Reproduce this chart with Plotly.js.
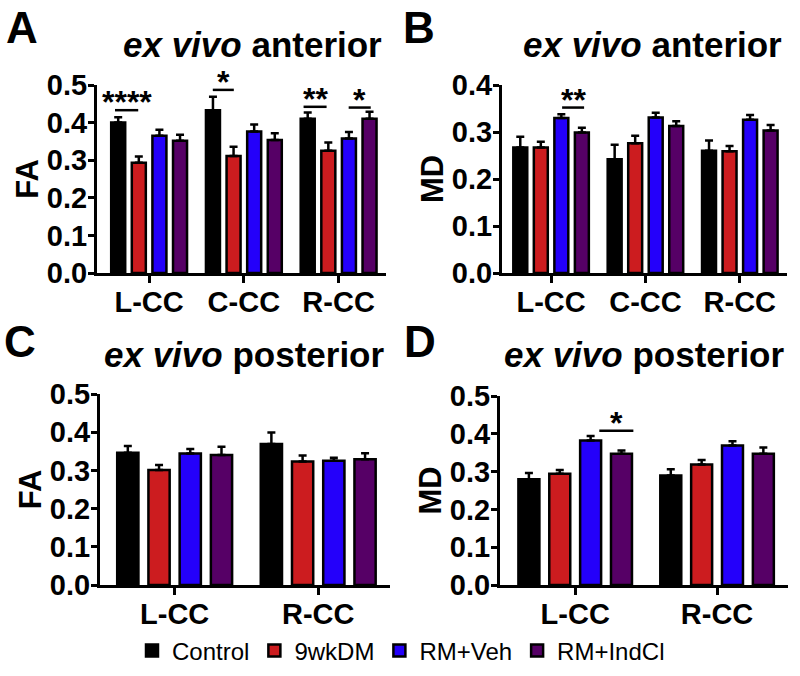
<!DOCTYPE html>
<html>
<head>
<meta charset="utf-8">
<script src="https://cdn.plot.ly/plotly-3.0.1.min.js"></script>
<style>html,body{margin:0;padding:0;background:#fff;}#chart{width:800px;height:676px;}</style>
</head>
<body>
<div id="chart"></div>
<script>
// ---- data ----
const groups = ["Control", "9wkDM", "RM+Veh", "RM+IndCl"];
const colors = ["#000000", "#CC1C1F", "#2400FA", "#560066"];

const catsAnt = ["L-CC", "C-CC", "R-CC"];
const catsPost = ["L-CC", "R-CC"];

// A: FA, ex vivo anterior
const faAntControl = [0.400, 0.433, 0.410];
const faAnt9wkDM   = [0.293, 0.311, 0.325];
const faAntRMVeh   = [0.365, 0.376, 0.358];
const faAntRMIndCl = [0.352, 0.354, 0.410];
const faAntErrControl = [0.014, 0.036, 0.017];
const faAntErr9wkDM   = [0.017, 0.025, 0.022];
const faAntErrRMVeh   = [0.016, 0.019, 0.017];
const faAntErrRMIndCl = [0.016, 0.018, 0.019];

// B: MD, ex vivo anterior
const mdAntControl = [0.267, 0.242, 0.260];
const mdAnt9wkDM   = [0.267, 0.276, 0.259];
const mdAntRMVeh   = [0.330, 0.331, 0.326];
const mdAntRMIndCl = [0.299, 0.313, 0.303];
const mdAntErrControl = [0.023, 0.031, 0.022];
const mdAntErr9wkDM   = [0.012, 0.016, 0.011];
const mdAntErrRMVeh   = [0.008, 0.010, 0.010];
const mdAntErrRMIndCl = [0.010, 0.010, 0.012];

// C: FA, ex vivo posterior
const faPostControl = [0.346, 0.369];
const faPost9wkDM   = [0.301, 0.323];
const faPostRMVeh   = [0.344, 0.325];
const faPostRMIndCl = [0.340, 0.329];
const faPostErrControl = [0.018, 0.030];
const faPostErr9wkDM   = [0.013, 0.016];
const faPostErrRMVeh   = [0.012, 0.008];
const faPostErrRMIndCl = [0.022, 0.016];

// D: MD, ex vivo posterior
const mdPostControl = [0.280, 0.290];
const mdPost9wkDM   = [0.294, 0.319];
const mdPostRMVeh   = [0.382, 0.369];
const mdPostRMIndCl = [0.347, 0.347];
const mdPostErrControl = [0.016, 0.016];
const mdPostErr9wkDM   = [0.010, 0.012];
const mdPostErrRMVeh   = [0.012, 0.011];
const mdPostErrRMIndCl = [0.009, 0.017];

// significance marks: [panel axis suffix, x0, x1, y, label]
const sigMarks = [
  ["", -0.36, -0.115, 0.433, "****"],
  ["", 0.672, 0.894, 0.487, "*"],
  ["", 1.63, 1.873, 0.442, "**"],
  ["", 2.106, 2.339, 0.440, "*"],
  ["2", 0.117, 0.35, 0.352, "**"],
  ["4", 0.17, 0.41, 0.408, "*"]
];

// ---- build ----
const panels = [
  {ax: "", cats: catsAnt, vals: [faAntControl, faAnt9wkDM, faAntRMVeh, faAntRMIndCl],
   errs: [faAntErrControl, faAntErr9wkDM, faAntErrRMVeh, faAntErrRMIndCl], legend: true},
  {ax: "2", cats: catsAnt, vals: [mdAntControl, mdAnt9wkDM, mdAntRMVeh, mdAntRMIndCl],
   errs: [mdAntErrControl, mdAntErr9wkDM, mdAntErrRMVeh, mdAntErrRMIndCl], legend: false},
  {ax: "3", cats: catsPost, vals: [faPostControl, faPost9wkDM, faPostRMVeh, faPostRMIndCl],
   errs: [faPostErrControl, faPostErr9wkDM, faPostErrRMVeh, faPostErrRMIndCl], legend: false},
  {ax: "4", cats: catsPost, vals: [mdPostControl, mdPost9wkDM, mdPostRMVeh, mdPostRMIndCl],
   errs: [mdPostErrControl, mdPostErr9wkDM, mdPostErrRMVeh, mdPostErrRMIndCl], legend: false}
];

const traces = [];
panels.forEach(p => {
  groups.forEach((g, i) => {
    traces.push({
      type: "bar", name: g, legendgroup: g, showlegend: p.legend,
      x: p.cats, y: p.vals[i],
      xaxis: "x" + p.ax, yaxis: "y" + p.ax,
      marker: {color: colors[i], line: {color: "#000", width: 2.5}},
      error_y: {type: "data", array: p.errs[i], symmetric: false,
                arrayminus: p.errs[i].map(() => 0),
                color: "#000", thickness: 2.5, width: 4},
      hoverinfo: "y"
    });
  });
});

const FONT = "Liberation Sans, Arial, Helvetica, sans-serif";
const tickFontY = {family: FONT, size: 29, color: "#000", weight: 700};
const tickFontX = {family: FONT, size: 29, color: "#000", weight: 700};

function xAxis(domain, range) {
  return {domain: domain, range: range, type: "category", showline: true, linewidth: 3,
          linecolor: "#000", ticks: "outside", ticklen: 7, tickwidth: 3, tickcolor: "#000",
          ticklabelstandoff: -6,
          showgrid: false, zeroline: false, tickfont: tickFontX, fixedrange: true};
}
function yAxis(domain, range, title, anchor) {
  return {domain: domain, range: range, anchor: anchor, showline: true, linewidth: 3,
          linecolor: "#000", ticks: "outside", ticklen: 6, tickwidth: 3, tickcolor: "#000",
          ticklabelstandoff: -5,
          dtick: 0.1, tick0: 0, tickformat: ".1f", showgrid: false, zeroline: false,
          tickfont: tickFontY, fixedrange: true,
          title: {text: title, font: {family: FONT, size: 31, color: "#000", weight: 700}, standoff: 0}};
}

const yA = [1 - 273/676, 1 - 85/676];
const yC = [1 - 585/676, 1 - 394/676];
const yD = [1 - 585/676, 1 - 396/676];

const shapes = [];
const annotations = [];
sigMarks.forEach(s => {
  shapes.push({type: "line", xref: "x" + s[0], yref: "y" + s[0],
               x0: s[1], x1: s[2], y0: s[3], y1: s[3], line: {color: "#000", width: 2.5}});
  annotations.push({xref: "x" + s[0], yref: "y" + s[0], x: (s[1] + s[2]) / 2, y: s[3],
                    text: s[4], showarrow: false, yanchor: "bottom", yshift: -12,
                    font: {family: FONT, size: 32, color: "#000", weight: 700}});
});

const letterFont = {family: FONT, size: 44, color: "#000", weight: 700};
const titleFont = {family: FONT, size: 35, color: "#000", weight: 700};
[["A", 4, 27], ["B", 401, 27], ["C", 2, 341], ["D", 402, 341]].forEach(l => {
  annotations.push({xref: "paper", yref: "paper", x: l[1] / 800, y: 1 - l[2] / 676,
                    xanchor: "left", yanchor: "middle", text: l[0], showarrow: false, font: letterFont});
});
[["<i>ex vivo</i> anterior", 252, 44], ["<i>ex vivo</i> anterior", 652, 44],
 ["<i>ex vivo</i> posterior", 244, 354], ["<i>ex vivo</i> posterior", 644, 354]].forEach(t => {
  annotations.push({xref: "paper", yref: "paper", x: t[1] / 800, y: 1 - t[2] / 676,
                    xanchor: "center", yanchor: "middle", text: t[0], showarrow: false, font: titleFont});
});

const layout = {
  width: 800, height: 676,
  margin: {l: 0, r: 0, t: 0, b: 0},
  paper_bgcolor: "#fff", plot_bgcolor: "#fff",
  barmode: "group", bargap: 0.13, bargroupgap: 0.32,
  showlegend: true,
  legend: {orientation: "h", x: 0.165, xanchor: "left", y: 1 - 651/676, yanchor: "middle",
           font: {family: FONT, size: 24, color: "#000"},
           traceorder: "normal", itemwidth: 30, tracegroupgap: 0, bgcolor: "rgba(0,0,0,0)"},
  xaxis: xAxis([97/800, 386/800], [-0.55, 2.5]),
  yaxis: yAxis(yA, [0, 0.5], "FA", "x"),
  xaxis2: xAxis([502/800, 787/800], [-0.52, 2.5]),
  yaxis2: yAxis(yA, [0, 0.4], "MD", "x2"),
  xaxis3: xAxis([100/800, 390/800], [-0.52, 1.5]),
  yaxis3: yAxis(yC, [0, 0.5], "FA", "x3"),
  xaxis4: xAxis([500/800, 788/800], [-0.53, 1.5]),
  yaxis4: yAxis(yD, [0, 0.5], "MD", "x4"),
  shapes: shapes,
  annotations: annotations
};
layout.xaxis.anchor = "y"; layout.xaxis2.anchor = "y2";
layout.xaxis3.anchor = "y3"; layout.xaxis4.anchor = "y4";

Plotly.newPlot("chart", traces, layout, {displayModeBar: false, staticPlot: true});
</script>
</body>
</html>
